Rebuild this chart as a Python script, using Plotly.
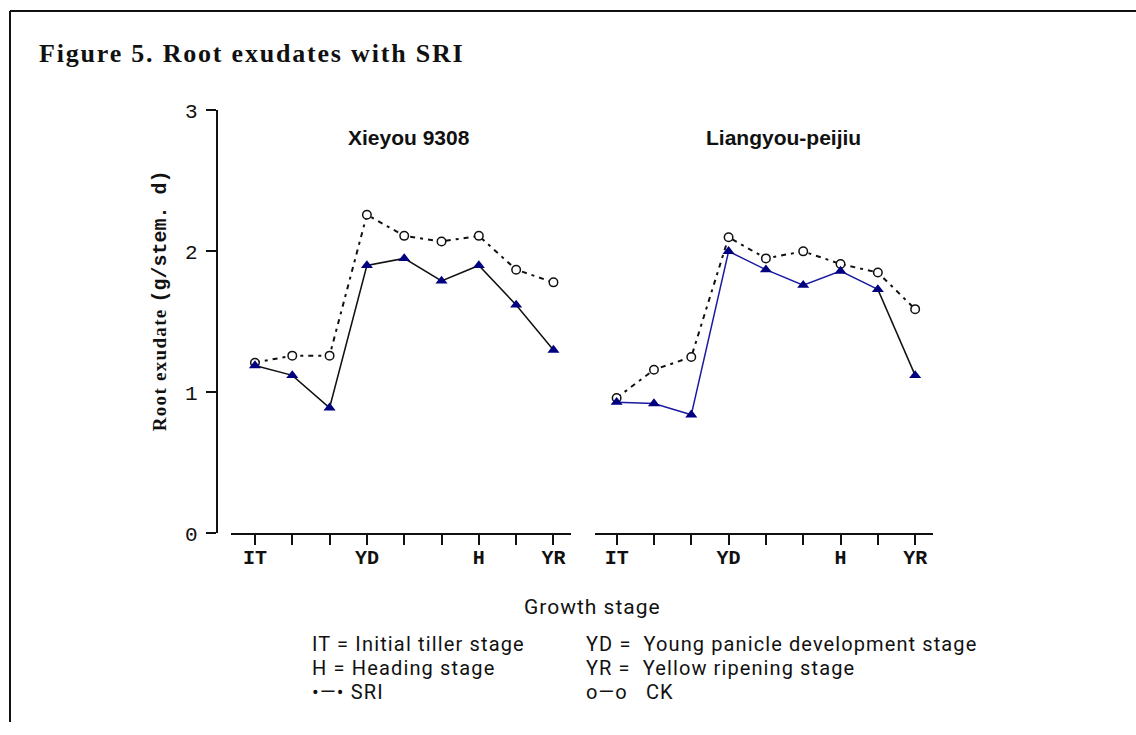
import plotly.graph_objects as go

W, H = 1136, 735

# ---------------- data ----------------
stage_labels = ["IT", "", "", "YD", "", "", "H", "", "YR"]
y_ticks = [0, 1, 2, 3]

xieyou_sri = [1.19, 1.12, 0.89, 1.90, 1.95, 1.79, 1.90, 1.62, 1.30]
xieyou_ck = [1.21, 1.26, 1.26, 2.26, 2.11, 2.07, 2.11, 1.87, 1.78]
liangyou_sri = [0.93, 0.92, 0.84, 2.00, 1.87, 1.76, 1.86, 1.73, 1.12]
liangyou_ck = [0.96, 1.16, 1.25, 2.10, 1.95, 2.00, 1.91, 1.85, 1.59]

panel_titles = ["Xieyou 9308", "Liangyou-peijiu"]
main_title = "Figure 5. Root exudates with SRI"
x_title = "Growth stage"
legend_lines = [
    ("IT = Initial tiller stage", "YD = \u00a0Young panicle development stage"),
    ("H = Heading stage", "YR = \u00a0Yellow ripening stage"),
    ("\u2022\u2014\u2022 SRI", "o\u2014o \u00a0 CK"),
]

# photographed page appears vertically offset/compressed; compensate
Y_OFF, Y_SCALE = 11.0, 0.9646


def px(x):
    return x / W


def py(y):
    page_y = (y - Y_OFF) / Y_SCALE
    page_y = min(max(page_y, 1.0), H)
    return 1 - page_y / H


NAVY = "#000080"
BLACK = "#111111"
CK_DASH = "5px,5px,3px,5px"

fig = go.Figure()

xs = list(range(len(stage_labels)))

# ---- left panel ----
fig.add_trace(go.Scatter(x=xs, y=xieyou_ck, mode="lines",
                         line=dict(color=BLACK, width=2, dash=CK_DASH),
                         xaxis="x", yaxis="y", showlegend=False, hoverinfo="skip"))
fig.add_trace(go.Scatter(x=xs, y=xieyou_sri, mode="lines",
                         line=dict(color=BLACK, width=1.5),
                         xaxis="x", yaxis="y", showlegend=False, hoverinfo="skip"))
fig.add_trace(go.Scatter(x=xs, y=xieyou_ck, mode="markers",
                         marker=dict(symbol="circle", size=8.5, color="white",
                                     line=dict(color=BLACK, width=1.5)),
                         xaxis="x", yaxis="y", showlegend=False))
fig.add_trace(go.Scatter(x=xs, y=xieyou_sri, mode="markers",
                         marker=dict(symbol="triangle-up", size=10.5, color=NAVY,
                                     line=dict(width=0)),
                         xaxis="x", yaxis="y", showlegend=False))

# ---- right panel ----
fig.add_trace(go.Scatter(x=xs, y=liangyou_ck, mode="lines",
                         line=dict(color=BLACK, width=2, dash=CK_DASH),
                         xaxis="x2", yaxis="y2", showlegend=False, hoverinfo="skip"))
fig.add_trace(go.Scatter(x=xs[:-1], y=liangyou_sri[:-1], mode="lines",
                         line=dict(color="#1a1aa0", width=1.5),
                         xaxis="x2", yaxis="y2", showlegend=False, hoverinfo="skip"))
fig.add_trace(go.Scatter(x=xs[-2:], y=liangyou_sri[-2:], mode="lines",
                         line=dict(color=BLACK, width=1.5),
                         xaxis="x2", yaxis="y2", showlegend=False, hoverinfo="skip"))
fig.add_trace(go.Scatter(x=xs, y=liangyou_ck, mode="markers",
                         marker=dict(symbol="circle", size=8.5, color="white",
                                     line=dict(color=BLACK, width=1.5)),
                         xaxis="x2", yaxis="y2", showlegend=False))
fig.add_trace(go.Scatter(x=xs, y=liangyou_sri, mode="markers",
                         marker=dict(symbol="triangle-up", size=10.5, color=NAVY,
                                     line=dict(width=0)),
                         xaxis="x2", yaxis="y2", showlegend=False))

tick_font = dict(family="Liberation Mono", size=21, color="#111")
xtick_font = dict(family="Liberation Mono", size=20, color="#111", weight="bold")

ydom = [py(532), py(111)]

xaxis_common = dict(
    range=[-0.65, 8.47], tickmode="array", tickvals=xs, ticktext=stage_labels,
    showline=True, linecolor=BLACK, linewidth=2, ticks="outside", ticklen=10,
    tickwidth=2, tickcolor=BLACK, showgrid=False, zeroline=False,
    tickfont=xtick_font, ticklabelstandoff=-5, fixedrange=True,
)

fig.update_layout(
    width=W, height=H,
    margin=dict(l=0, r=0, t=0, b=0),
    paper_bgcolor="white", plot_bgcolor="white",
    xaxis=dict(domain=[px(230.7), px(571)], anchor="y", **xaxis_common),
    xaxis2=dict(domain=[px(595), px(932.7)], anchor="y2",
                **{**xaxis_common, "range": [-0.58, 8.47]}),
    yaxis=dict(domain=ydom, range=[0, 3], anchor="free", position=px(216.7),
               tickmode="array", tickvals=y_ticks, showline=True, linecolor=BLACK,
               linewidth=2, ticks="outside", ticklen=10, tickwidth=2,
               tickcolor=BLACK, showgrid=False, zeroline=False,
               tickfont=tick_font, ticklabelstandoff=4, fixedrange=True),
    yaxis2=dict(domain=ydom, range=[0, 3], anchor="x2", visible=False,
                fixedrange=True),
    showlegend=False,
)

SANS = "Roboto, Liberation Sans"
annotations = []
annotations.append(dict(
    text="<b><span style='letter-spacing:1.8px'>" + main_title + "</span></b>",
    x=px(37), y=py(54), xref="paper", yref="paper", xanchor="left",
    yanchor="middle", showarrow=False,
    font=dict(family="Liberation Serif", size=26, color="#111")))
for t, cx in zip(panel_titles, [408.5, 783.5]):
    annotations.append(dict(text="<b>" + t + "</b>", x=px(cx), y=py(138),
                            xref="paper", yref="paper", xanchor="center",
                            yanchor="middle", showarrow=False,
                            font=dict(family="Liberation Sans", size=21, color="#111")))
annotations.append(dict(
    text="<b><span style='letter-spacing:1.3px'>Root exudate </span></b>"
         "<span style='font-family:Liberation Mono;font-size:20px'><b>(g/stem. d)</b></span>",
    x=px(160), y=py(301), xref="paper", yref="paper", textangle=-90,
    xanchor="center", yanchor="middle", showarrow=False,
    font=dict(family="Liberation Serif", size=19, color="#111")))
annotations.append(dict(
    text="<span style='letter-spacing:1px'>" + x_title + "</span>",
    x=px(592.5), y=py(605), xref="paper", yref="paper", xanchor="center",
    yanchor="middle", showarrow=False,
    font=dict(family=SANS, size=21, color="#111")))
for i, (l, r) in enumerate(legend_lines):
    yy = [642, 666, 690][i]
    annotations.append(dict(text="<span style='letter-spacing:1.15px'>" + l + "</span>",
                            x=px(311), y=py(yy), xref="paper", yref="paper",
                            xanchor="left", yanchor="middle", showarrow=False,
                            borderpad=0,
                            font=dict(family=SANS, size=20, color="#111")))
    annotations.append(dict(text="<span style='letter-spacing:1.1px'>" + r + "</span>",
                            x=px(585), y=py(yy), xref="paper", yref="paper",
                            xanchor="left", yanchor="middle", showarrow=False,
                            borderpad=0,
                            font=dict(family=SANS, size=20, color="#111")))
fig.update_layout(annotations=annotations)

# frame
fig.add_shape(type="line", xref="paper", yref="paper", x0=px(10), x1=1.0,
              y0=py(9), y1=py(9), line=dict(color="#111", width=2))
fig.add_shape(type="line", xref="paper", yref="paper", x0=px(10), x1=px(10),
              y0=py(9), y1=0, line=dict(color="#111", width=2))

fig.write_html(
    "out.html",
    config={"displayModeBar": False},
    post_script=(
        "document.body.style.margin='0px';"
        "document.documentElement.style.overflow='hidden';"
        "var gd=document.getElementsByClassName('plotly-graph-div')[0];"
        "gd.style.position='fixed';gd.style.left='0px';gd.style.top='0px';"
    ),
)
